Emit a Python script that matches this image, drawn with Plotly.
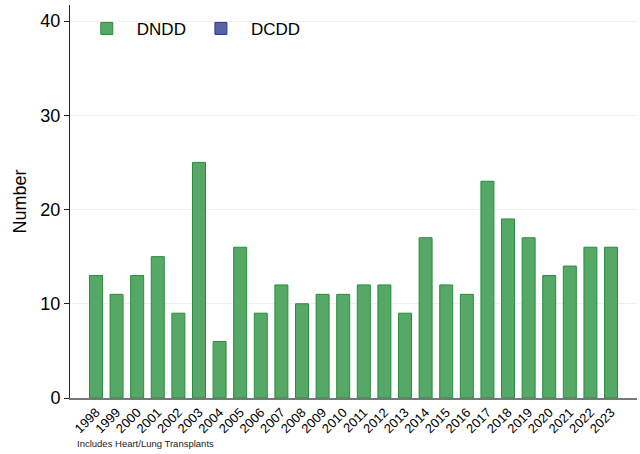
import plotly.graph_objects as go

years = [str(y) for y in range(1998, 2024)]
dndd = [13, 11, 13, 15, 9, 25, 6, 16, 9, 12, 10, 11, 11, 12, 12, 9, 17, 12, 11, 23, 19, 17, 13, 14, 16, 16]
dcdd = [0] * len(years)
y_ticks = [0, 10, 20, 30, 40]

fig = go.Figure()
fig.add_trace(go.Bar(x=years, y=dcdd, name="DCDD", legendrank=2,
                     marker=dict(color="#5562a6", line=dict(color="#2b3a94", width=1))))
fig.add_trace(go.Bar(x=years, y=dndd, name="DNDD", legendrank=1,
                     marker=dict(color="#55a865", line=dict(color="#2b8c3f", width=1))))

fig.update_layout(
    width=640, height=454,
    margin=dict(l=70, r=3, t=5, b=56),
    paper_bgcolor="white", plot_bgcolor="white",
    barmode="overlay", bargap=0.37,
    font=dict(family="Liberation Sans, Arial, sans-serif", color="black"),
    showlegend=True,
    legend=dict(orientation="h", x=0.012, y=0.985, xanchor="left", yanchor="top",
                font=dict(size=17), bgcolor="rgba(0,0,0,0)", itemwidth=50,
                traceorder="normal"),
    annotations=[dict(text="Includes Heart/Lung Transplants", xref="paper", yref="paper",
                      x=0.008, y=-0.115, xanchor="left", yanchor="middle",
                      showarrow=False, font=dict(size=9.5, color="#222"))],
)
fig.update_xaxes(
    type="category", range=[-1.26, 26.26], tickangle=-45, automargin=False,
    tickfont=dict(size=13), showline=True, linecolor="#777", linewidth=1.5,
    ticks="", showgrid=False,
)
fig.update_yaxes(
    range=[0, 41.7], tickvals=y_ticks, tickfont=dict(size=18), automargin=False,
    showline=True, linecolor="#222", linewidth=1, ticks="outside", ticklen=5,
    tickcolor="#222", showgrid=True, gridcolor="#eef0f0", gridwidth=1,
    zeroline=False,
    title=dict(text="Number", font=dict(size=18), standoff=9),
)
fig.write_html("out.html", config={"displayModeBar": False},
               post_script="document.body.style.margin='0';document.body.style.overflow='hidden';")
